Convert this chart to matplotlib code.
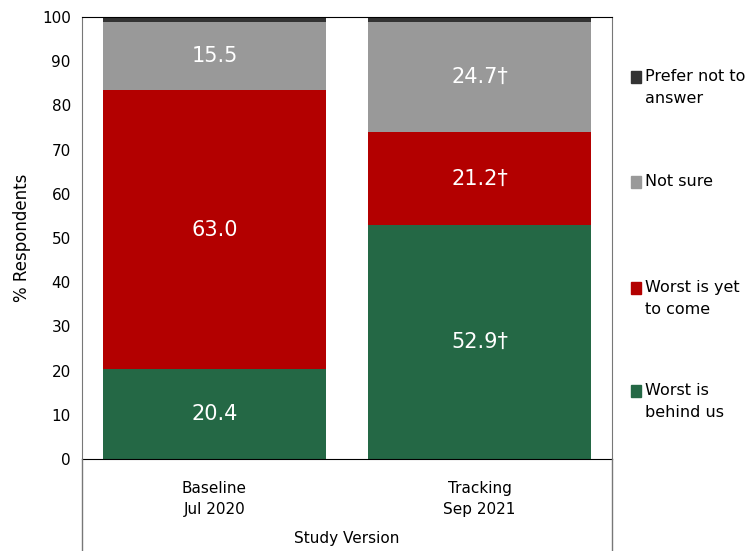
import numpy as np
import matplotlib.pyplot as plt
from matplotlib.lines import Line2D
from matplotlib.patches import Rectangle

categories = ['Baseline\nJul 2020', 'Tracking\nSep 2021']
series = ['Worst is\nbehind us', 'Worst is yet\nto come', 'Not sure', 'Prefer not to\nanswer']
behind = [20.4, 52.9]
yet_to_come = [63.0, 21.2]
not_sure = [15.5, 24.7]
prefer_not = [1.1, 1.2]
labels = [['20.4', '52.9\u2020'], ['63.0', '21.2\u2020'], ['15.5', '24.7\u2020'], [None, None]]
colors = ['#246845', '#b30000', '#999999', '#333333']

values = [behind, yet_to_come, not_sure, prefer_not]

fig = plt.figure(figsize=(7.48, 5.51), dpi=100)
ax = fig.add_axes([0.1096, 0.167, 0.7086, 0.802])

x = np.arange(len(categories))
bottom = np.zeros(len(categories))
for vals, col, labs in zip(values, colors, labels):
    ax.bar(x, vals, width=0.84, bottom=bottom, color=col, edgecolor='none')
    for xi, v, b, lab in zip(x, vals, bottom, labs):
        if lab:
            ax.text(xi, b + v / 2, lab, ha='center', va='center', color='white', fontsize=15)
    bottom += np.array(vals)

ax.set_xlim(-0.5, 1.5)
ax.set_ylim(0, 100)
ax.set_yticks(range(0, 101, 10))
ax.tick_params(axis='y', length=0, labelsize=11, pad=8)
ax.set_xticks(x)
ax.set_xticklabels(categories, fontsize=11, linespacing=1.5)
ax.tick_params(axis='x', length=0, pad=16)
ax.set_ylabel('% Respondents', fontsize=12, labelpad=8)
ax.set_xlabel('Study Version', fontsize=11, labelpad=10)
for s in ['left', 'right']:
    ax.spines[s].set_color('#777777')
ax.spines['bottom'].set_color('black')
ax.spines['top'].set_color('black')

# frame continues below the axis down to the bottom edge
for xf in [0.1096, 0.1096 + 0.7086]:
    fig.add_artist(Line2D([xf, xf], [0.0, 0.167], color='#777777', lw=1.0))

# legend on the right
leg_y = [0.86, 0.67, 0.478, 0.29]
for name, col, yy in zip(series[::-1], colors[::-1], leg_y):
    fig.add_artist(Rectangle((0.843, yy - 0.011), 0.0145, 0.022, color=col, transform=fig.transFigure))
    fig.text(0.862, yy + 0.014, name, fontsize=11.5, va='top', ha='left', linespacing=1.55)

fig.savefig('out.png', dpi=100)
